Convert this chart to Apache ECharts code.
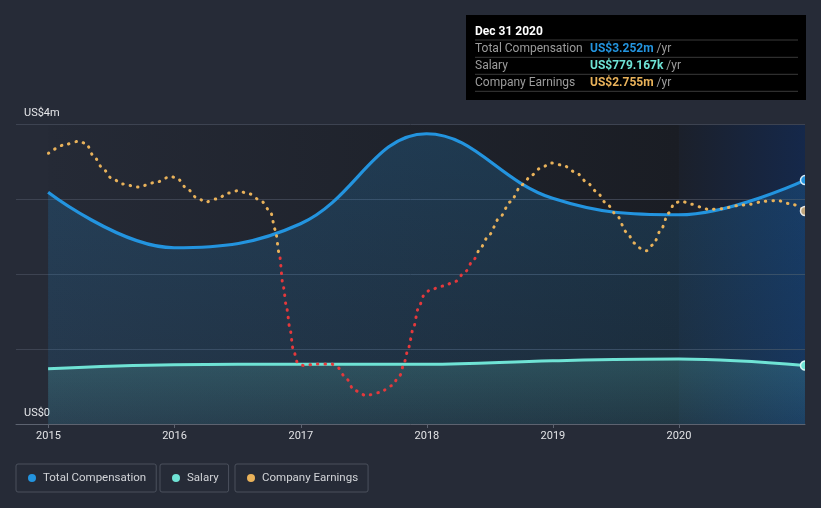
<!DOCTYPE html>
<html><head><meta charset="utf-8">
<script src="https://cdn.jsdelivr.net/npm/echarts@6/dist/echarts.min.js"></script>
<style>html,body{margin:0;padding:0;background:#262b37;}#c{width:821px;height:508px;}</style>
</head><body><div id="c"></div>
<script>
// ---- data (values in US$ millions) ----
const compDates = ['2014-12-31','2015-12-31','2016-12-31','2017-12-31','2018-12-31','2019-12-31','2020-12-31'];
const totalComp = [3.09, 2.35, 2.67, 3.87, 3.01, 2.79, 3.252];
const salary = [0.737, 0.79, 0.796, 0.796, 0.844, 0.867, 0.779];
const earningsDates = ['2015-01-01','2015-02-21','2015-03-29','2015-04-20','2015-05-12','2015-06-07','2015-07-02','2015-08-04','2015-09-17','2015-11-07','2015-12-21',
 '2016-01-08','2016-02-06','2016-03-07','2016-04-01','2016-05-01','2016-06-07','2016-07-02','2016-08-04','2016-09-09','2016-10-05','2016-10-19','2016-10-30','2016-11-11','2016-11-21','2016-11-30','2016-12-10','2016-12-23',
 '2017-01-08','2017-02-16','2017-03-31','2017-04-16','2017-05-12','2017-06-04','2017-07-09','2017-08-18','2017-09-21','2017-10-15','2017-10-28','2017-11-08','2017-11-23','2017-12-07','2017-12-24',
 '2018-01-10','2018-02-18','2018-03-24','2018-04-22','2018-05-16','2018-06-07','2018-06-28','2018-08-01','2018-08-30','2018-10-03','2018-11-01','2018-11-25','2018-12-28',
 '2019-01-30','2019-03-10','2019-04-08','2019-05-07','2019-06-05','2019-07-04','2019-08-02','2019-08-26','2019-09-13','2019-09-29','2019-10-18','2019-11-12','2019-12-01','2019-12-20',
 '2020-01-08','2020-02-06','2020-03-07','2020-03-26','2020-05-04','2020-06-17','2020-07-25','2020-09-02','2020-10-11','2020-11-24','2020-12-31'];
const earnings = [3.61,3.73,3.77,3.74,3.57,3.41,3.28,3.20,3.16,3.22,3.30,
 3.28,3.14,3.01,2.96,3.00,3.08,3.11,3.07,2.97,2.83,2.59,2.28,1.83,1.54,1.28,0.99,0.81,
 0.78,0.80,0.80,0.76,0.61,0.45,0.38,0.42,0.51,0.65,0.83,1.01,1.28,1.54,1.72,
 1.79,1.84,1.90,2.03,2.19,2.36,2.51,2.76,2.96,3.19,3.32,3.41,3.48,
 3.45,3.35,3.23,3.10,2.94,2.79,2.56,2.41,2.34,2.31,2.39,2.61,2.81,2.95,
 2.97,2.93,2.89,2.86,2.87,2.91,2.93,2.97,2.98,2.93,2.84];
const yTickLabels = {0: 'US$0', 4: 'US$4m'};
const seriesNames = ['Total Compensation', 'Salary', 'Company Earnings'];
const tooltipTitle = 'Dec 31 2020';
const tooltipValues = ['US$3.252m', 'US$779.167k', 'US$2.755m'];
const axisMin = '2014-09-29', axisMax = '2020-12-31';
const historyStart = '2015-01-01', lastYearStart = '2020-01-01';
const yMax = 4;
const earningsThreshold = 2.24;

const C_BLUE = '#2394df', C_TEAL = '#6fe3d5', C_ORANGE = '#e9b25a', C_RED = '#e5383b';
const BG = '#262b37';
const W = 821, H = 508;

function pairs(d, v, endStyle) {
  return d.map((x, i) => {
    if (i === d.length - 1 && endStyle) return {value: [x, v[i]], symbol: 'circle', symbolSize: 9, itemStyle: endStyle};
    return [x, v[i]];
  });
}
const grad = (c0, c1, horiz) => new echarts.graphic.LinearGradient(0, 0, horiz ? 1 : 0, horiz ? 0 : 1, [{offset: 0, color: c0}, {offset: 1, color: c1}]);

const chart = echarts.init(document.getElementById('c'), null, {renderer: 'canvas'});
const font = 'Roboto, "Noto Sans", sans-serif';

function legend(i, left, color) {
  return {
    left: left, top: 464, orient: 'horizontal',
    data: [{name: seriesNames[i], itemStyle: {color: color}}],
    icon: 'circle', itemWidth: 8, itemHeight: 8,
    padding: [7, 10, 7, 12],
    borderColor: '#4b515d', borderWidth: 1, borderRadius: 2,
    textStyle: {color: '#d2d4d8', fontSize: 11.5, fontFamily: font, padding: [0, 0, 0, 2], lineHeight: 14},
    selectedMode: false
  };
}

const ttColors = [C_BLUE, C_TEAL, C_ORANGE];
const ttChildren = [
  {type: 'rect', shape: {x: 0, y: 0, width: 340, height: 85}, style: {fill: '#000000'}},
  {type: 'text', x: 9, y: 16.5, style: {text: tooltipTitle, fill: '#ffffff', font: 'bold 12px ' + font, verticalAlign: 'middle'}}
];
[25, 42.3, 59.3, 76.3].forEach(y => ttChildren.push({type: 'line', shape: {x1: 9, y1: y, x2: 332, y2: y}, style: {stroke: '#3a3a3a', lineWidth: 1}}));
seriesNames.forEach((n, i) => {
  const y = 33.8 + i * 17;
  ttChildren.push({type: 'text', x: 9, y: y, style: {text: n, fill: '#9c9c9c', font: '12px ' + font, verticalAlign: 'middle'}});
  ttChildren.push({type: 'text', x: 124, y: y, style: {
    text: '{v|' + tooltipValues[i] + '}{u| /yr}', verticalAlign: 'middle',
    rich: {v: {fill: ttColors[i], font: 'bold 12px ' + font}, u: {fill: '#9c9c9c', font: '12px ' + font}}
  }});
});

const earningsSeries = {type: 'line', name: seriesNames[2], data: pairs(earningsDates, earnings, {color: '#bfa57c', borderColor: '#e8e8e8', borderWidth: 1.5}),
  smooth: 0.3, smoothMonotone: 'x', symbol: 'circle', symbolSize: 0, showAllSymbol: true, z: 4,
  lineStyle: {width: 3, type: [0.5, 7], cap: 'round', color: C_ORANGE}, itemStyle: {color: C_ORANGE}};

chart.setOption({
  backgroundColor: BG,
  animation: false,
  grid: {left: 16, right: 16, top: 124, bottom: 84, containLabel: false},
  xAxis: {
    type: 'time', min: axisMin, max: axisMax,
    minInterval: 365 * 86400000, maxInterval: 366 * 86400000,
    axisLine: {show: true, lineStyle: {color: '#5d6370', width: 1}},
    axisTick: {show: true, length: 4, lineStyle: {color: '#5d6370'}},
    splitLine: {show: false},
    axisLabel: {color: '#e2e3e6', fontSize: 11, fontFamily: font, margin: 7, formatter: '{yyyy}', showMinLabel: false, showMaxLabel: false, hideOverlap: false}
  },
  yAxis: {
    type: 'value', min: 0, max: yMax, interval: 1,
    axisLine: {show: false}, axisTick: {show: false},
    splitLine: {lineStyle: {color: '#3d4351', width: 1}},
    axisLabel: {inside: true, margin: 8, color: '#e6e7ea', fontSize: 11, fontFamily: font,
      verticalAlign: 'bottom', padding: [0, 0, 5, 0],
      formatter: v => yTickLabels[v] || ''}
  },
  legend: [legend(0, 16, C_BLUE), legend(1, 160, C_TEAL), legend(2, 235, C_ORANGE)],
  series: [
    {type: 'line', name: seriesNames[0], data: pairs(compDates, totalComp, {color: C_BLUE, borderColor: '#d6eaf8', borderWidth: 1.5}),
      smooth: 0.4, symbol: 'circle', symbolSize: 0, showAllSymbol: true, z: 2,
      lineStyle: {color: C_BLUE, width: 3.2}, itemStyle: {color: C_BLUE},
      areaStyle: {color: grad('rgba(35,148,223,0.30)', 'rgba(35,148,223,0.16)')}},
    {type: 'line', name: seriesNames[1], data: pairs(compDates, salary, {color: C_TEAL, borderColor: '#d8f7f3', borderWidth: 1.5}),
      smooth: 0.4, symbol: 'circle', symbolSize: 0, showAllSymbol: true, z: 3,
      lineStyle: {color: C_TEAL, width: 3}, itemStyle: {color: C_TEAL},
      areaStyle: {color: grad('rgba(111,227,213,0.26)', 'rgba(111,227,213,0.10)')}},
    earningsSeries
  ]
});

// Positions from the library's own scales
const px = (x, y) => chart.convertToPixel({gridIndex: 0}, [x, y]);
const pHistTop = px(historyStart, yMax), pLastTop = px(lastYearStart, yMax), pEndBot = px(axisMax, 0);
const thrY = px(historyStart, earningsThreshold)[1];
const t = thrY / H;

chart.setOption({
  series: [{}, {}, {lineStyle: {color: new echarts.graphic.LinearGradient(0, 0, 0, H, [
    {offset: 0, color: C_ORANGE}, {offset: t, color: C_ORANGE}, {offset: t, color: C_RED}, {offset: 1, color: C_RED}], true)}}],
  graphic: [
    {type: 'rect', x: pHistTop[0], y: pHistTop[1], shape: {width: pLastTop[0] - pHistTop[0], height: pEndBot[1] - pHistTop[1]},
      style: {fill: grad('#252a36', '#1a1d24', true)}, z: -10, silent: true},
    {type: 'rect', x: pLastTop[0], y: pLastTop[1], shape: {width: pEndBot[0] - pLastTop[0], height: pEndBot[1] - pLastTop[1]},
      style: {fill: grad('#1b202b', '#15284a', true)}, z: -10, silent: true},
    {type: 'rect', x: pEndBot[0], y: pLastTop[1] - 14, shape: {width: W - pEndBot[0], height: pEndBot[1] - pLastTop[1] + 8}, style: {fill: BG}, z: 100, silent: true},
    {type: 'group', x: 466, y: 15, children: ttChildren, z: 101}
  ]
});
</script></body></html>
